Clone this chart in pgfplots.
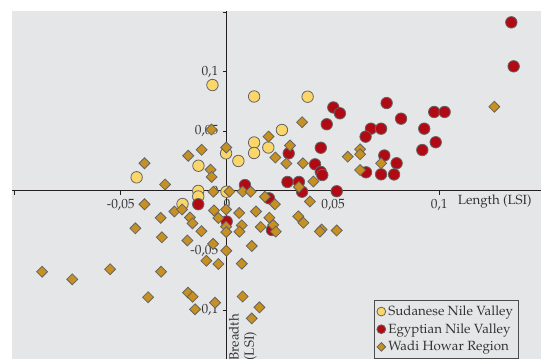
\documentclass[border=0pt]{standalone}
\usepackage[T1]{fontenc}
\usepackage{mathpazo}
\usepackage{pgfplots}
\pgfplotsset{compat=1.18}
\usepackage{pgfplotstable}

\definecolor{bggray}{RGB}{229,230,232}
\definecolor{sudan}{RGB}{250,214,107}
\definecolor{egypt}{RGB}{178,10,20}
\definecolor{wadi}{RGB}{198,144,34}
\definecolor{rim}{RGB}{100,100,100}
\definecolor{axisblack}{RGB}{35,31,32}
\definecolor{labeltext}{RGB}{50,50,50}

% marks above the axis lines and tick labels, legend above everything
\pgfplotsset{
  layers/marksontop/.define layer set={axis background,axis grid,axis ticks,axis lines,axis tick labels,pre main,main,axis descriptions,axis foreground}{},
}

% Length (LSI) / Breadth (LSI)
\pgfplotstableread{
x y
-0.0068 0.0888
0.0128 0.0792
0.0380 0.0790
0.0259 0.0511
0.0128 0.0406
0.0128 0.0318
0.0195 0.0364
-0.0004 0.0315
0.0054 0.0251
-0.0134 0.0211
-0.0425 0.0114
-0.0135 0.0000
-0.0135 -0.0047
-0.0209 -0.0110
-0.0002 -0.0007
}\sudanese

\pgfplotstableread{
x y
0.1339 0.1414
0.1350 0.1045
0.0976 0.0662
0.1025 0.0662
0.0820 0.0606
0.0752 0.0737
0.0929 0.0522
0.0983 0.0408
0.0920 0.0343
0.0799 0.0232
0.0787 0.0138
0.0501 0.0700
0.0532 0.0651
0.0470 0.0559
0.0678 0.0522
0.0726 0.0522
0.0653 0.0455
0.0442 0.0362
0.0291 0.0315
0.0741 0.0297
0.0415 0.0223
0.0442 0.0159
0.0449 0.0133
0.0655 0.0156
0.0726 0.0139
0.0285 0.0075
0.0339 0.0075
0.0354 -0.0007
0.0517 -0.0003
0.0085 0.0049
0.0198 -0.0062
-0.0135 -0.0112
-0.0001 -0.0257
0.0212 -0.0328
}\egyptian

\pgfplotstableread{
x y
0.1259 0.0706
0.0354 0.0576
0.0196 0.0456
-0.0073 0.0515
0.0297 0.0381
0.0228 0.0280
0.0280 0.0230
0.0358 0.0232
0.0569 0.0287
0.0627 0.0349
0.0627 0.0307
0.0627 0.0175
0.0726 0.0232
0.0407 0.0079
0.0339 0.0033
-0.0003 0.0364
-0.0119 0.0345
-0.0182 0.0295
-0.0388 0.0232
-0.0077 0.0178
-0.0072 0.0117
-0.0291 0.0054
-0.0064 -0.0007
0.0012 -0.0005
0.0074 -0.0005
0.0112 -0.0007
0.0179 -0.0049
0.0226 -0.0112
0.0391 -0.0089
-0.0388 -0.0112
-0.0247 -0.0173
-0.0211 -0.0156
-0.0312 -0.0226
-0.0174 -0.0223
-0.0162 -0.0272
-0.0061 -0.0164
-0.0004 -0.0156
-0.0040 -0.0227
0.0058 -0.0185
0.0137 -0.0173
-0.0004 -0.0300
-0.0003 -0.0345
0.0070 -0.0289
0.0059 -0.0342
0.0200 -0.0225
0.0218 -0.0286
0.0159 -0.0303
0.0230 -0.0342
0.0336 -0.0213
0.0360 -0.0267
0.0446 -0.0324
0.0438 -0.0341
0.0517 -0.0332
0.0117 -0.0462
-0.0431 -0.0314
-0.0306 -0.0389
-0.0186 -0.0416
-0.0120 -0.0338
-0.0065 -0.0444
-0.0003 -0.0502
-0.0097 -0.0586
-0.0040 -0.0613
0.0070 -0.0611
-0.0870 -0.0678
-0.0728 -0.0742
-0.0550 -0.0657
-0.0310 -0.0678
-0.0371 -0.0892
-0.0183 -0.0854
-0.0161 -0.0888
-0.0056 -0.0938
-0.0150 -0.0993
0.0074 -0.0886
0.0153 -0.0977
0.0117 -0.1070
}\wadihowar

\begin{document}
\begin{tikzpicture}
\begin{axis}[
  set layers=marksontop,
  scale only axis,
  width=396.75pt, height=261pt,
  xmin=-0.10118, xmax=0.14788,
  ymin=-0.14102, ymax=0.15092,
  axis lines=middle,
  axis line style={-, color=axisblack, line width=0.7pt},
  axis background/.style={fill=bggray},
  xtick={-0.1,-0.05,0,0.05,0.1},
  xticklabels={{},{-0,05},{0},{0,05},{0,1}},
  ytick={-0.1,-0.05,0,0.05,0.1,0.15},
  yticklabels={{-0,1},{-0,05},{0},{0,05},{0,1},{}},
  hide obscured x ticks=false,
  hide obscured y ticks=false,
  tick align=outside,
  major tick length=3pt,
  tick style={color=axisblack, line width=0.7pt},
  ticklabel style={font=\fontsize{10}{12}\selectfont, text=labeltext},
  clip=false,
  legend cell align=left,
  legend style={
    at={(axis description cs:0.684,0.1695)}, anchor=north west,
    fill=bggray, draw=black!70, line width=0.6pt,
    font=\fontsize{10}{12}\selectfont, text=labeltext,
    inner xsep=2pt, inner ysep=2pt, row sep=0.5pt,
  },
  legend image code/.code={\draw[#1] plot coordinates {(0.13cm,0cm)};},
]
\addplot[only marks, mark=*, mark size=4.3pt,
  mark options={fill=sudan, draw=rim, line width=0.6pt},
  legend image post style={mark size=3.3pt}]
  table[x=x, y=y] {\sudanese};
\addlegendentry{Sudanese Nile Valley}

\addplot[only marks, mark=*, mark size=4.3pt,
  mark options={fill=egypt, draw=rim, line width=0.6pt},
  legend image post style={mark size=3.3pt}]
  table[x=x, y=y] {\egyptian};
\addlegendentry{Egyptian Nile Valley}

\addplot[only marks, mark=square*, mark size=2.9pt,
  mark options={rotate=45, fill=wadi, draw=rim, line width=0.6pt},
  legend image post style={mark size=2.3pt}]
  table[x=x, y=y] {\wadihowar};
\addlegendentry{Wadi Howar Region}

\node[anchor=east, inner sep=0pt, font=\fontsize{10}{12}\selectfont, text=labeltext]
  at (axis cs:0.1436,-0.0091) {Length (LSI)};
\node[rotate=90, anchor=north west, align=left, inner sep=0pt,
  font=\fontsize{10}{11.5}\selectfont, text=labeltext]
  at (axis cs:0.0008,-0.1425) {Breadth\\(LSI)};
\end{axis}
\pgfresetboundingbox
\path ([xshift=-9pt]current axis.south west) rectangle ([yshift=8.25pt]current axis.north east);
\end{tikzpicture}
\end{document}
